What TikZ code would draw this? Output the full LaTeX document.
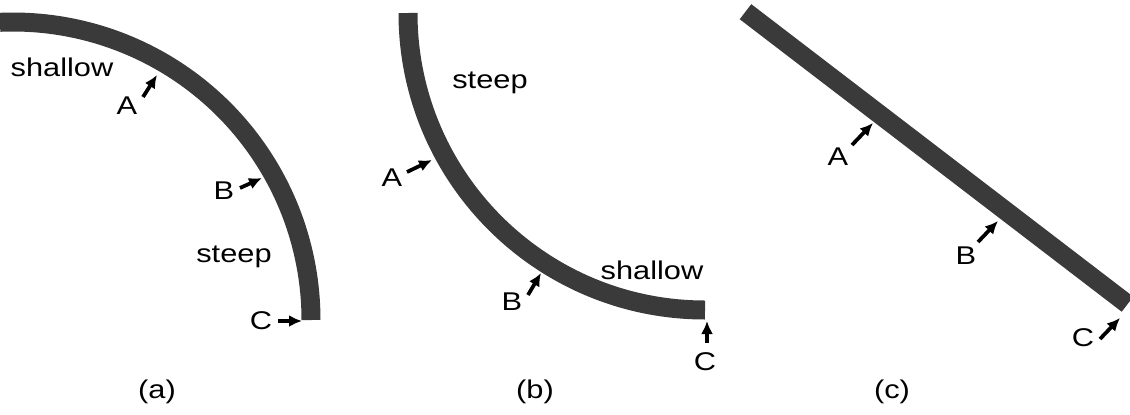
\documentclass[tikz,border=0pt]{standalone}
\usepackage{fontspec}
\setmainfont{Liberation Sans}
\usetikzlibrary{arrows.meta}
\definecolor{barGray}{RGB}{58,58,58}

\begin{document}
\begin{tikzpicture}[x=0.02cm, y=0.02cm,
    bar/.style={line width=0.38cm, barGray, line cap=butt},
    ptr/.style={line width=0.075cm, -{Latex[length=0.26cm, width=0.24cm]}},
    lbl/.style={font=\fontsize{14.6}{17}\selectfont, xscale=1.2, inner sep=0pt}]
  \useasboundingbox (0,0) rectangle (1130,414);

  % (a) arc, shallow on top and steep at the end
  \draw[bar] (13,94) ++(92.5:298) arc[start angle=92.5, end angle=0, radius=298];
  \node[lbl] (shallowA) at (62,347) {shallow};
  \node[lbl] (steepA) at (234,157) {steep};
  \node[lbl] (aA) at (127,308) {A};
  \node[lbl] (aB) at (224,223) {B};
  \node[lbl] (aC) at (261,93) {C};
  \coordinate (aAt) at (143,317); \coordinate (aAh) at (157,339);
  \coordinate (aBt) at (240,226); \coordinate (aBh) at (262,236);
  \coordinate (aCt) at (278,93);  \coordinate (aCh) at (302,93);
  \draw[ptr] (aAt) -- (aAh);
  \draw[ptr] (aBt) -- (aBh);
  \draw[ptr] (aCt) -- (aCh);

  % (b) arc, steep on top and shallow at the end
  \draw[bar] (408,401) arc[start angle=180, end angle=270, radius=297];
  \node[lbl] (steepB) at (490,331) {steep};
  \node[lbl] (shallowB) at (652,144) {shallow};
  \node[lbl] (bA) at (392,236) {A};
  \node[lbl] (bB) at (512,112) {B};
  \node[lbl] (bC) at (705,52) {C};
  \coordinate (bAt) at (407,242); \coordinate (bAh) at (432,254);
  \coordinate (bBt) at (528,119); \coordinate (bBh) at (541,141);
  \coordinate (bCt) at (707,71);  \coordinate (bCh) at (707,93);
  \draw[ptr] (bAt) -- (bAh);
  \draw[ptr] (bBt) -- (bBh);
  \draw[ptr] (bCt) -- (bCh);

  % (c) straight bar
  \draw[bar] (745.5,402.3) -- (1127.5,109.8);
  \node[lbl] (cA) at (838,257) {A};
  \node[lbl] (cB) at (966,158) {B};
  \node[lbl] (cC) at (1083,76) {C};
  \coordinate (cAt) at (852,269);  \coordinate (cAh) at (873,291);
  \coordinate (cBt) at (978,172);  \coordinate (cBh) at (998,193);
  \coordinate (cCt) at (1100,75);  \coordinate (cCh) at (1120,96);
  \draw[ptr] (cAt) -- (cAh);
  \draw[ptr] (cBt) -- (cBh);
  \draw[ptr] (cCt) -- (cCh);

  % captions
  \foreach \x/\cap in {157/a, 535/b, 892/c}
    \node[lbl] (cap\cap) at (\x,22) {(\cap)};
\end{tikzpicture}
\end{document}
